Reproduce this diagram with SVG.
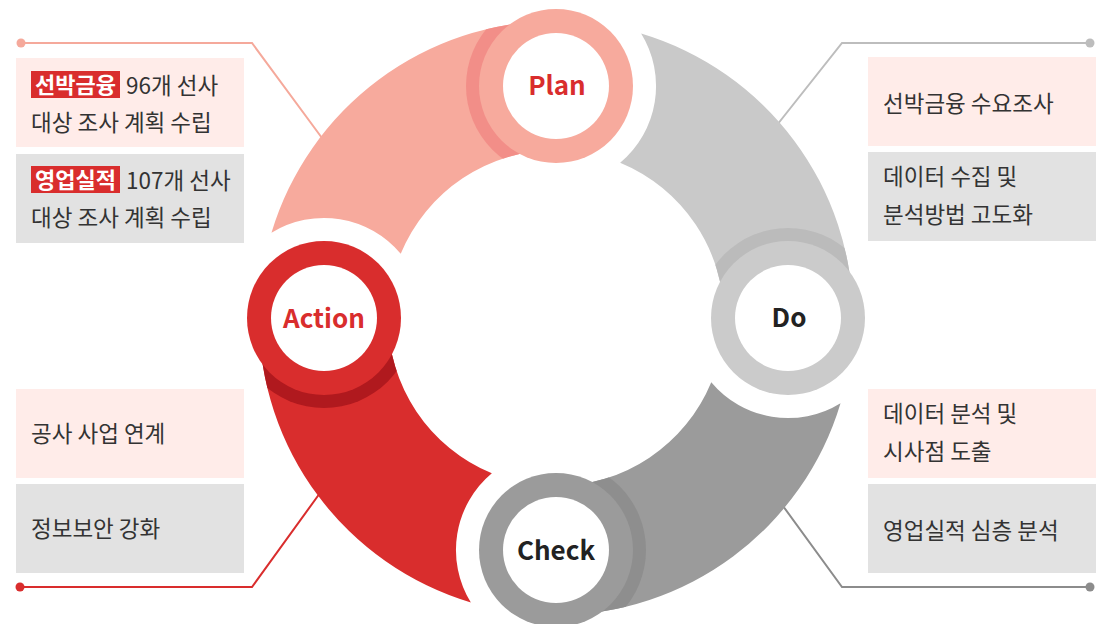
<svg xmlns="http://www.w3.org/2000/svg" width="1106" height="624" viewBox="0 0 1106 624">
<style>
.txt{font-family:"Noto Sans CJK KR","Noto Sans",sans-serif;font-size:22.5px;fill:#333333}
.tag{font-family:"Noto Sans CJK KR","Noto Sans",sans-serif;font-size:22px;font-weight:700;fill:#ffffff}
.lbl{font-family:"Noto Sans CJK KR","Noto Sans",sans-serif;font-size:26px;font-weight:700;text-anchor:middle}
.pink{fill:#FFECE9}
.grey{fill:#E2E2E2}
.conn{fill:none;stroke-width:2}
</style>
<defs>
<path id="seg" d="M 641.14 33.47 A 297 297 0 0 1 853 318 L 724 318 A 168 168 0 0 0 620.16 162.73 A 100 100 0 0 0 641.14 33.47 Z"/>
<clipPath id="segClip"><use href="#seg"/></clipPath>
</defs>
<rect width="1106" height="624" fill="#ffffff"/>

<g id="connectors">
<path class="conn" stroke="#F5A99B" d="M 21 43 L 252 43 L 322 138"/>
<circle cx="21" cy="43" r="4.5" fill="#F5A99B"/>
<path class="conn" stroke="#BDBDBD" d="M 1090 43 L 842 43 L 777 125"/>
<circle cx="1090" cy="43" r="4.5" fill="#BDBDBD"/>
<path class="conn" stroke="#8C8C8C" d="M 1090 587 L 842 587 L 783 506"/>
<circle cx="1090" cy="587" r="4.5" fill="#8C8C8C"/>
<path class="conn" stroke="#D92D2D" d="M 20 587 L 252 587 L 320 493"/>
<circle cx="20" cy="587" r="4.5" fill="#D92D2D"/>
</g>

<g id="segments">
<g id="seg-do">
<use href="#seg" fill="#C9C9C9"/>
<circle cx="788" cy="318" r="90" fill="#BBBBBB" clip-path="url(#segClip)"/>
</g>
<g id="seg-check" transform="rotate(90 556 318)">
<use href="#seg" fill="#9B9B9B"/>
<circle cx="788" cy="318" r="90" fill="#8E8E8E" clip-path="url(#segClip)"/>
</g>
<g id="seg-action" transform="rotate(180 556 318)">
<use href="#seg" fill="#D92D2D"/>
<circle cx="788" cy="318" r="90" fill="#B0191E" clip-path="url(#segClip)"/>
</g>
<g id="seg-plan" transform="rotate(270 556 318)">
<use href="#seg" fill="#F7AA9D"/>
<circle cx="788" cy="318" r="90" fill="#F28E88" clip-path="url(#segClip)"/>
</g>
</g>

<g id="node-plan">
<circle cx="556" cy="86" r="77" fill="#F7AA9D"/>
<circle cx="556" cy="86" r="53" fill="#ffffff"/>
<text class="lbl" x="557" y="95" fill="#D92D2D">Plan</text>
</g>
<g id="node-do">
<circle cx="788" cy="318" r="77" fill="#CBCBCB"/>
<circle cx="788" cy="318" r="53" fill="#ffffff"/>
<text class="lbl" x="789" y="327" fill="#222222">Do</text>
</g>
<g id="node-check">
<circle cx="556" cy="550" r="77" fill="#9B9B9B"/>
<circle cx="556" cy="550" r="53" fill="#ffffff"/>
<text class="lbl" x="556" y="559.5" fill="#222222">Check</text>
</g>
<g id="node-action">
<circle cx="324" cy="318" r="77" fill="#D92D2D"/>
<circle cx="324" cy="318" r="53" fill="#ffffff"/>
<text class="lbl" x="324" y="327.5" fill="#D92D2D">Action</text>
</g>

<g id="box-plan-1">
<rect class="pink" x="16" y="58" width="228" height="89"/>
<rect x="31" y="71" width="89" height="27" fill="#D92D2D"/>
<text class="tag" x="75.5" y="93" text-anchor="middle">선박금융</text>
<text class="txt" x="126" y="93.5">96개 선사</text>
<text class="txt" x="31" y="130.5">대상 조사 계획 수립</text>
</g>
<g id="box-plan-2">
<rect class="grey" x="16" y="154" width="228" height="89"/>
<rect x="31" y="166" width="89" height="27" fill="#D92D2D"/>
<text class="tag" x="75.5" y="188" text-anchor="middle">영업실적</text>
<text class="txt" x="126" y="188.5">107개 선사</text>
<text class="txt" x="31" y="225.5">대상 조사 계획 수립</text>
</g>
<g id="box-action-1">
<rect class="pink" x="16" y="389" width="228" height="89"/>
<text class="txt" x="31" y="442">공사 사업 연계</text>
</g>
<g id="box-action-2">
<rect class="grey" x="16" y="484" width="228" height="89"/>
<text class="txt" x="31" y="537">정보보안 강화</text>
</g>
<g id="box-do-1">
<rect class="pink" x="868" y="57" width="228" height="89"/>
<text class="txt" x="883" y="112">선박금융 수요조사</text>
</g>
<g id="box-do-2">
<rect class="grey" x="868" y="152" width="228" height="89"/>
<text class="txt" x="883" y="185">데이터 수집 및</text>
<text class="txt" x="883" y="223">분석방법 고도화</text>
</g>
<g id="box-check-1">
<rect class="pink" x="868" y="389" width="228" height="89"/>
<text class="txt" x="883" y="422">데이터 분석 및</text>
<text class="txt" x="883" y="459.5">시사점 도출</text>
</g>
<g id="box-check-2">
<rect class="grey" x="868" y="484" width="228" height="89"/>
<text class="txt" x="883" y="539">영업실적 심층 분석</text>
</g>
</svg>
